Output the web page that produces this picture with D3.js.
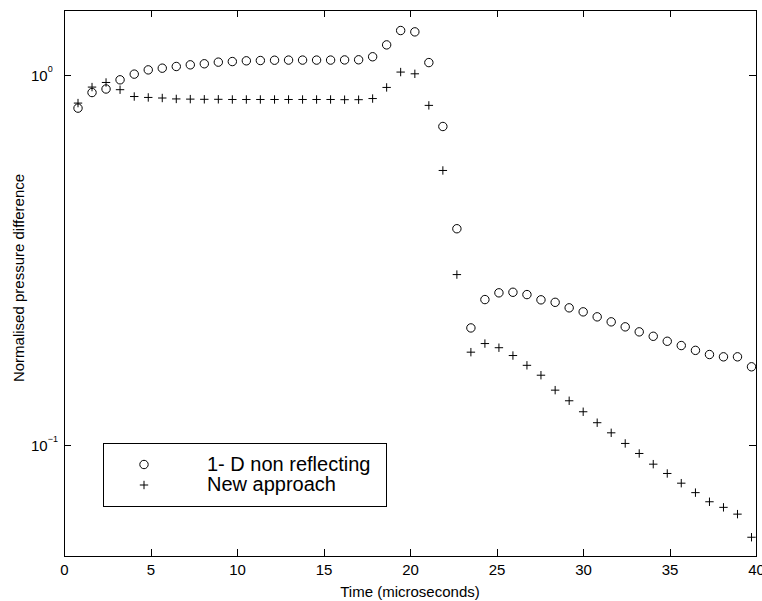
<!DOCTYPE html>
<html>
<head>
<meta charset="utf-8">
<script src="https://cdn.jsdelivr.net/npm/d3@7"></script>
<style>
body { margin: 0; background: #fff; }
svg { display: block; font-family: "Liberation Sans", Arial, Helvetica, sans-serif; }
</style>
</head>
<body>
<svg id="chart" width="762" height="601"></svg>
<script>
"use strict";

// time (microseconds) of each sample
var times = [0.81, 1.62, 2.43, 3.24, 4.06, 4.87, 5.68, 6.49, 7.30, 8.11,
    8.92, 9.73, 10.54, 11.35, 12.17, 12.98, 13.79, 14.60, 15.41, 16.22,
    17.03, 17.84, 18.65, 19.46, 20.28, 21.09, 21.90, 22.71, 23.52, 24.33,
    25.14, 25.95, 26.76, 27.57, 28.39, 29.20, 30.01, 30.82, 31.63, 32.44,
    33.25, 34.06, 34.87, 35.68, 36.50, 37.31, 38.12, 38.93, 39.74];

var nonReflecting = [0.814, 0.897, 0.917, 0.971, 1.006, 1.033, 1.044, 1.055, 1.066, 1.073,
    1.084, 1.088, 1.093, 1.095, 1.097, 1.098, 1.098, 1.098, 1.098, 1.099,
    1.100, 1.121, 1.207, 1.320, 1.309, 1.081, 0.726, 0.384, 0.207, 0.247,
    0.2576, 0.2585, 0.2548, 0.2466, 0.2428, 0.2346, 0.2288, 0.2218, 0.215, 0.2084,
    0.202, 0.1965, 0.1905, 0.1855, 0.180, 0.1754, 0.1729, 0.1729, 0.1625];

var newApproach = [0.840, 0.928, 0.955, 0.913, 0.875, 0.870, 0.867, 0.862, 0.861, 0.860,
    0.860, 0.859, 0.859, 0.859, 0.859, 0.859, 0.859, 0.859, 0.859, 0.858,
    0.858, 0.864, 0.926, 1.019, 1.008, 0.828, 0.552, 0.2886, 0.178, 0.1878,
    0.183, 0.1743, 0.164, 0.1542, 0.1405, 0.1315, 0.1228, 0.1147, 0.1077, 0.1008,
    0.0947, 0.0886, 0.0836, 0.0787, 0.0742, 0.0701, 0.0677, 0.0649, 0.0562];

var seriesNames = ["1- D non reflecting", "New approach"];
var xTicks = [0, 5, 10, 15, 20, 25, 30, 35, 40];
var yTicks = [0.1, 1];
var xLabel = "Time (microseconds)";
var yLabel = "Normalised pressure difference";

function draw() {
    var svg = d3.select("#chart");
    var pLeft = 64, pRight = 756, pTop = 10, pBottom = 556;

    var x = d3.scaleLinear().domain([0, 40]).range([pLeft, pRight]);
    var y = d3.scaleLog().domain([0.05, 1.5]).range([pBottom, pTop]);

    var tickLen = 7;
    var fontSize = 15;

    // frame + mirrored inward ticks
    var gBottom = svg.append("g").attr("transform", "translate(0," + pBottom + ")")
        .call(d3.axisBottom(x).tickValues(xTicks).tickSizeInner(-tickLen).tickSizeOuter(0).tickPadding(8));
    var gTop = svg.append("g").attr("transform", "translate(0," + pTop + ")")
        .call(d3.axisTop(x).tickValues(xTicks).tickSizeInner(-tickLen).tickSizeOuter(0).tickFormat(""));
    var gLeft = svg.append("g").attr("transform", "translate(" + pLeft + ",0)")
        .call(d3.axisLeft(y).tickValues(yTicks).tickSizeInner(-tickLen).tickSizeOuter(0).tickFormat(""));
    var gRight = svg.append("g").attr("transform", "translate(" + pRight + ",0)")
        .call(d3.axisRight(y).tickValues(yTicks).tickSizeInner(-tickLen).tickSizeOuter(0).tickFormat(""));

    [gBottom, gTop, gLeft, gRight].forEach(function (g) {
        g.attr("font-family", null).attr("font-size", null);
        g.selectAll("path, line").attr("stroke", "#000").attr("stroke-width", 1)
            .attr("shape-rendering", "crispEdges");
    });

    gBottom.selectAll(".tick text").attr("font-size", fontSize).attr("fill", "#000");

    // y labels as 10 with superscript exponent
    gLeft.selectAll(".tick text").each(function (d) {
        var t = d3.select(this);
        var exp = Math.round(Math.log10(d));
        t.text(null).attr("text-anchor", "start").attr("x", 31 - pLeft)
            .attr("dy", null).attr("y", 5.4).attr("fill", "#000")
            .attr("font-size", fontSize);
        t.append("tspan").text("10");
        t.append("tspan").attr("font-size", 9).attr("dy", -9)
            .text(exp < 0 ? "\u2212" + (-exp) : String(exp));
    });

    // axis titles
    svg.append("text").attr("x", (pLeft + pRight) / 2).attr("y", 597)
        .attr("text-anchor", "middle").attr("font-size", fontSize).text(xLabel);
    svg.append("text").attr("transform", "translate(24," + ((pTop + pBottom) / 2 - 5) + ") rotate(-90)")
        .attr("text-anchor", "middle").attr("font-size", fontSize).text(yLabel);

    var plot = svg.append("g");

    plot.selectAll("circle.pt").data(times).enter().append("circle")
        .attr("class", "pt")
        .attr("cx", function (d) { return x(d); })
        .attr("cy", function (d, i) { return y(nonReflecting[i]); })
        .attr("r", 4.2)
        .attr("fill", "none").attr("stroke", "#000").attr("stroke-width", 1);

    var plusPath = "M-4.2,0H4.2M0,-4.2V4.2";
    plot.selectAll("path.pt").data(times).enter().append("path")
        .attr("class", "pt")
        .attr("transform", function (d, i) { return "translate(" + x(d) + "," + y(newApproach[i]) + ")"; })
        .attr("d", plusPath)
        .attr("fill", "none").attr("stroke", "#000").attr("stroke-width", 1);

    // legend
    var legend = svg.append("g").attr("transform", "translate(103,443)");
    legend.append("rect").attr("width", 283).attr("height", 63)
        .attr("fill", "#fff").attr("stroke", "#000").attr("stroke-width", 1)
        .attr("shape-rendering", "crispEdges");
    legend.append("circle").attr("cx", 41).attr("cy", 21.5).attr("r", 4.2)
        .attr("fill", "none").attr("stroke", "#000");
    legend.append("path").attr("transform", "translate(41,42)").attr("d", plusPath)
        .attr("fill", "none").attr("stroke", "#000");
    legend.selectAll("text.lg").data(seriesNames).enter().append("text")
        .attr("class", "lg")
        .attr("x", 104)
        .attr("y", function (d, i) { return 28 + i * 20; })
        .attr("font-size", 20)
        .text(function (d) { return d; });
}

draw();
</script>
</body>
</html>
